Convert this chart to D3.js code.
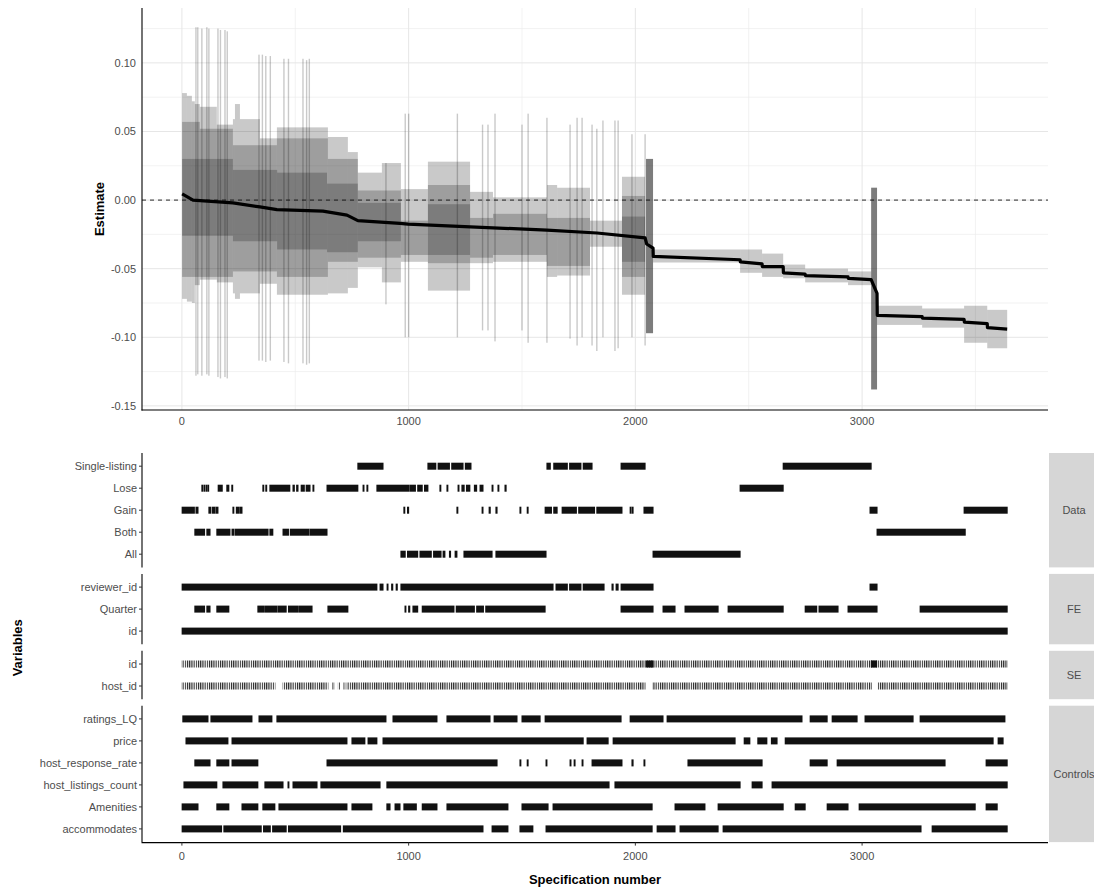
<!DOCTYPE html>
<html>
<head>
<meta charset="utf-8">
<script src="https://cdn.jsdelivr.net/npm/d3@7"></script>
<style>
  body { margin: 0; background: #fff; }
  svg { font-family: "Liberation Sans", Arial, sans-serif; }
</style>
</head>
<body>
<div class="canvas"></div>
<script>
// ---- data ----
const xTicks = [0, 1000, 2000, 3000];
const yTicks = [-0.15, -0.10, -0.05, 0.00, 0.05, 0.10];

// estimate curve: [specification, estimate]
const estimate = [
  [1, 0.0045], [49, 0.0], [225, -0.002], [344, -0.005], [419, -0.007], [622, -0.008],
  [728, -0.011], [776, -0.015], [962, -0.017], [997, -0.0175], [1610, -0.0219],
  [1831, -0.024], [2043, -0.0275], [2050, -0.032], [2078, -0.035],
  [2079, -0.041], [2462, -0.0435], [2463, -0.045], [2559, -0.0465], [2560, -0.0485],
  [2652, -0.0485], [2653, -0.053], [2749, -0.054], [2750, -0.055], [2938, -0.056],
  [2939, -0.057], [3040, -0.058], [3066, -0.068], [3067, -0.084], [3265, -0.085],
  [3266, -0.086], [3450, -0.087], [3451, -0.089], [3552, -0.090], [3553, -0.093], [3640, -0.094]
];

// confidence bands, three overlapping layers: [from, to, low, high]
const ciOuter = [
  [1, 22, -0.072, 0.078], [22, 44, -0.074, 0.076], [44, 57, -0.075, 0.072],
  [57, 79, -0.062, 0.070], [79, 154, -0.058, 0.068], [154, 225, -0.060, 0.055],
  [225, 234, -0.068, 0.059], [234, 256, -0.072, 0.070], [256, 344, -0.068, 0.059],
  [344, 419, -0.061, 0.045], [419, 644, -0.069, 0.053], [644, 732, -0.068, 0.046],
  [732, 776, -0.064, 0.035], [776, 882, -0.049, 0.020], [882, 966, -0.060, 0.027],
  [966, 1085, -0.045, 0.008], [1085, 1271, -0.066, 0.028], [1271, 1372, -0.046, 0.006],
  [1372, 1610, -0.045, 0.002], [1610, 1655, -0.056, 0.011], [1655, 1800, -0.055, 0.009],
  [1800, 1941, -0.034, -0.015], [1941, 2043, -0.069, 0.017], [2047, 2078, -0.097, 0.030],
  [2078, 2462, -0.0455, -0.036], [2462, 2559, -0.053, -0.036], [2559, 2652, -0.056, -0.039],
  [2652, 2749, -0.057, -0.047], [2749, 2938, -0.060, -0.050], [2938, 3040, -0.062, -0.052],
  [3040, 3066, -0.138, 0.009], [3066, 3265, -0.091, -0.077], [3265, 3450, -0.093, -0.079],
  [3450, 3552, -0.104, -0.077], [3552, 3640, -0.108, -0.080]
];
const ciMid = [
  [1, 79, -0.056, 0.057], [79, 225, -0.056, 0.052], [225, 419, -0.052, 0.040],
  [419, 644, -0.056, 0.045], [644, 776, -0.045, 0.030], [776, 966, -0.042, 0.007],
  [966, 1085, -0.040, -0.015], [1085, 1271, -0.046, 0.011], [1271, 1372, -0.042, -0.013],
  [1372, 1610, -0.040, -0.010], [1610, 1800, -0.048, -0.013], [1941, 2043, -0.056, 0.003],
  [2047, 2078, -0.097, 0.030], [3040, 3066, -0.138, 0.009]
];
const ciInner = [
  [1, 225, -0.026, 0.030], [225, 420, -0.030, 0.022], [420, 640, -0.036, 0.020],
  [640, 776, -0.038, 0.012], [776, 966, -0.030, -0.002], [1085, 1271, -0.040, -0.003],
  [1941, 2043, -0.045, -0.012], [2047, 2078, -0.097, 0.030], [3040, 3066, -0.138, 0.009]
];

// single wide intervals: [specification, low, high]
const spikes = [
  [62, -0.128, 0.126], [70, -0.127, 0.126], [88, -0.128, 0.125], [110, -0.127, 0.126],
  [119, -0.128, 0.125], [159, -0.129, 0.125], [170, -0.130, 0.124], [190, -0.129, 0.124],
  [200, -0.130, 0.123], [340, -0.117, 0.106], [355, -0.117, 0.106], [370, -0.118, 0.105],
  [390, -0.117, 0.105], [450, -0.118, 0.103], [470, -0.119, 0.103], [534, -0.119, 0.103],
  [550, -0.120, 0.102], [562, -0.119, 0.103], [900, -0.076, 0.027], [985, -0.100, 0.063],
  [1000, -0.100, 0.063], [1215, -0.100, 0.063], [1326, -0.095, 0.055], [1350, -0.095, 0.055],
  [1381, -0.103, 0.063], [1500, -0.095, 0.055], [1527, -0.104, 0.063], [1610, -0.104, 0.060],
  [1712, -0.101, 0.055], [1743, -0.106, 0.060], [1765, -0.100, 0.060], [1809, -0.106, 0.055],
  [1830, -0.110, 0.052], [1857, -0.100, 0.058], [1910, -0.110, 0.058], [1924, -0.108, 0.058],
  [1985, -0.100, 0.048], [2043, -0.106, 0.048]
];

// specification indicator panels
const groups = ["Data", "FE", "SE", "Controls"];
const dataRows = ["Single-listing", "Lose", "Gain", "Both", "All"];
const feRows = ["reviewer_id", "Quarter", "id"];
const seRows = ["id", "host_id"];
const controlRows = ["ratings_LQ", "price", "host_response_rate", "host_listings_count", "Amenities", "accommodates"];

// runs of specifications where a choice is active: [from, to]
const runsData = {
  "Single-listing": [[776, 887], [1085, 1120], [1130, 1180], [1190, 1240], [1250, 1275],
    [1610, 1625], [1640, 1700], [1710, 1760], [1770, 1809], [1937, 2043], [2652, 3040]],
  "Lose": [[88, 91], [97, 100], [106, 109], [114, 118], [160, 178], [198, 207], [220, 224],
    [357, 361], [370, 374], [388, 476], [490, 496], [506, 512], [526, 540], [548, 565],
    [578, 582], [640, 776], [799, 803], [816, 820], [860, 1000], [1005, 1030], [1040, 1060],
    [1070, 1085], [1138, 1142], [1169, 1173], [1218, 1222], [1235, 1245], [1255, 1270],
    [1290, 1300], [1315, 1328], [1368, 1372], [1394, 1398], [1425, 1430], [2462, 2652]],
  "Gain": [[1, 55], [62, 71], [119, 128], [135, 145], [150, 159], [225, 229], [240, 250],
    [255, 265], [979, 983], [995, 1000], [1213, 1217], [1324, 1328], [1355, 1360],
    [1385, 1390], [1491, 1495], [1523, 1527], [1602, 1630], [1640, 1655], [1677, 1740],
    [1750, 1820], [1830, 1941], [1977, 1981], [1986, 1990], [2038, 2078], [3035, 3066], [3450, 3640]],
  "Both": [[57, 100], [110, 124], [154, 212], [221, 230], [236, 380], [388, 401],
    [446, 470], [478, 560], [565, 640], [3066, 3455]],
  "All": [[966, 985], [995, 1040], [1050, 1100], [1110, 1143], [1152, 1160], [1180, 1185],
    [1205, 1213], [1244, 1368], [1385, 1606], [2078, 2462]]
};
const runsFE = {
  "reviewer_id": [[1, 860], [874, 887], [905, 909], [925, 930], [945, 950], [966, 1637],
    [1650, 1700], [1710, 1760], [1770, 1862], [1897, 1902], [1915, 1924], [1937, 2078], [3035, 3066]],
  "Quarter": [[57, 100], [110, 124], [154, 207], [335, 360], [365, 420], [425, 460],
    [470, 510], [515, 574], [644, 732], [984, 988], [1000, 1005], [1019, 1040], [1060, 1200],
    [1210, 1290], [1300, 1330], [1340, 1602], [1937, 2078], [2122, 2175], [2219, 2365],
    [2409, 2652], [2749, 2800], [2810, 2894], [2938, 3066], [3256, 3640]],
  "id": [[1, 3640]]
};
const runsSE = {
  "id": [[1, 2047], [2047, 2078], [2078, 3040], [3040, 3066], [3066, 3640]],
  "host_id": [[1, 410], [446, 644], [666, 670], [690, 695], [715, 719], [728, 2043],
    [2078, 3040], [3071, 3640]]
};
const runsControls = {
  "ratings_LQ": [[4, 115], [128, 309], [340, 397], [419, 900], [931, 1125], [1169, 1359],
    [1377, 1478], [1500, 1580], [1602, 1937], [1977, 2122], [2140, 2735], [2771, 2846],
    [2868, 2978], [3013, 3225], [3256, 3630]],
  "price": [[18, 203], [221, 728], [750, 807], [821, 860], [887, 1770], [1787, 1880],
    [1902, 2440], [2480, 2505], [2540, 2580], [2600, 2625], [2661, 3578], [3600, 3622]],
  "host_response_rate": [[57, 124], [154, 207], [221, 335], [640, 1390], [1491, 1495],
    [1523, 1527], [1606, 1610], [1712, 1716], [1730, 1734], [1765, 1769], [1809, 1941],
    [1985, 1990], [2038, 2042], [2232, 2559], [2771, 2846], [2890, 3366], [3547, 3640]],
  "host_listings_count": [[9, 154], [181, 335], [366, 446], [468, 472], [490, 596],
    [613, 874], [904, 1884], [1910, 2462], [2515, 2559], [2603, 3640]],
  "Amenities": [[1, 71], [154, 207], [265, 335], [357, 410], [428, 728], [750, 838],
    [904, 918], [940, 962], [979, 1034], [1060, 1125], [1169, 1438], [1500, 1615],
    [1637, 2074], [2175, 2307], [2365, 2652], [2705, 2749], [2846, 2938], [2987, 3499], [3547, 3596]],
  "accommodates": [[1, 175], [185, 350], [360, 390], [400, 460], [470, 700], [712, 1328],
    [1368, 1438], [1491, 1548], [1606, 2074], [2096, 2175], [2197, 2365], [2387, 3260], [3309, 3640]]
};

const facetRows = {Data: dataRows, FE: feRows, SE: seRows, Controls: controlRows};
const facetRuns = {Data: runsData, FE: runsFE, SE: runsSE, Controls: runsControls};

// ---- layout ----
const W = 1094, H = 891;
const plot = {left: 142, right: 1048};
const est = {top: 8, bottom: 410};
const rowStep = 22, facetGap = 6.5, facetTop = 453;
const stripW = 50;
const tickCol = '#4d4d4d';

const svg = d3.select('.canvas')
    .append('svg')
    .attr('width', W)
    .attr('height', H);

const x = d3.scaleLinear().domain([-176, 3820]).range([plot.left, plot.right]);
const y = d3.scaleLinear().domain([-0.153, 0.14]).range([est.bottom, est.top]);

// ---- top panel: estimates ----
const graph = svg.append('g');

// grid (minor then major)
const minorY = d3.range(yTicks.length - 1).map(i => (yTicks[i] + yTicks[i + 1]) / 2).concat([0.125]);
const minorX = xTicks.map(t => t + 500);
graph.append('g').selectAll('line').data(minorY).join('line')
    .attr('x1', plot.left).attr('x2', plot.right)
    .attr('y1', d => y(d)).attr('y2', d => y(d))
    .attr('stroke', '#ececec').attr('stroke-width', 0.7);
graph.append('g').selectAll('line').data(minorX).join('line')
    .attr('x1', d => x(d)).attr('x2', d => x(d))
    .attr('y1', est.top).attr('y2', est.bottom)
    .attr('stroke', '#ececec').attr('stroke-width', 0.7);
graph.append('g').selectAll('line').data(yTicks).join('line')
    .attr('x1', plot.left).attr('x2', plot.right)
    .attr('y1', d => y(d)).attr('y2', d => y(d))
    .attr('stroke', '#e6e6e6').attr('stroke-width', 1);
graph.append('g').selectAll('line').data(xTicks).join('line')
    .attr('x1', d => x(d)).attr('x2', d => x(d))
    .attr('y1', est.top).attr('y2', est.bottom)
    .attr('stroke', '#e6e6e6').attr('stroke-width', 1);

// CI layers, each semi-transparent so overlaps darken
[ciOuter, ciMid, ciInner].forEach(layer => {
    graph.append('g').selectAll('rect').data(layer).join('rect')
        .attr('x', d => x(d[0]))
        .attr('width', d => Math.max(1, x(d[1]) - x(d[0])))
        .attr('y', d => y(d[3]))
        .attr('height', d => y(d[2]) - y(d[3]))
        .attr('fill', '#000').attr('fill-opacity', 0.21);
});
graph.append('g').selectAll('rect').data(spikes).join('rect')
    .attr('x', d => x(d[0]) - 0.7).attr('width', 1.4)
    .attr('y', d => y(d[2]))
    .attr('height', d => y(d[1]) - y(d[2]))
    .attr('fill', '#000').attr('fill-opacity', 0.21);

// zero line
graph.append('line')
    .attr('x1', plot.left).attr('x2', plot.right)
    .attr('y1', y(0)).attr('y2', y(0))
    .attr('stroke', '#111').attr('stroke-width', 0.9)
    .attr('stroke-dasharray', '4,4');

// estimate curve
graph.append('path')
    .datum(estimate)
    .attr('d', d3.line().x(d => x(d[0])).y(d => y(d[1])))
    .attr('fill', 'none').attr('stroke', '#000')
    .attr('stroke-width', 3.2).attr('stroke-linejoin', 'round');

// axes
graph.append('line').attr('x1', plot.left).attr('x2', plot.left)
    .attr('y1', est.top).attr('y2', est.bottom + 0.5)
    .attr('stroke', '#000').attr('stroke-width', 1.1);
graph.append('line').attr('x1', plot.left - 0.5).attr('x2', plot.right)
    .attr('y1', est.bottom).attr('y2', est.bottom)
    .attr('stroke', '#000').attr('stroke-width', 1.1);
graph.append('g').selectAll('text').data(yTicks).join('text')
    .attr('x', plot.left - 6).attr('y', d => y(d))
    .attr('dy', '0.35em').attr('text-anchor', 'end')
    .attr('font-size', 11).attr('fill', tickCol)
    .text(d => d.toFixed(2));
graph.append('g').selectAll('text').data(xTicks).join('text')
    .attr('x', d => x(d)).attr('y', est.bottom + 15)
    .attr('text-anchor', 'middle')
    .attr('font-size', 11).attr('fill', tickCol)
    .text(d => d);
graph.append('text')
    .attr('transform', `translate(104, ${(est.top + est.bottom) / 2}) rotate(-90)`)
    .attr('text-anchor', 'middle')
    .attr('font-size', 13).attr('font-weight', 'bold')
    .text('Estimate');

// ---- bottom panel: specification choices ----
const specs = svg.append('g');
const defs = svg.append('defs');
defs.append('pattern')
    .attr('id', 'hatch').attr('patternUnits', 'userSpaceOnUse')
    .attr('width', 2.2).attr('height', 10)
    .append('rect').attr('width', 1.1).attr('height', 10).attr('fill', '#222');
const hatched = new Set(['SE']);

let yCursor = facetTop;
groups.forEach(g => {
    const rows = facetRows[g];
    const h = (rows.length - 1 + 1.2) * rowStep;
    const ys = d3.scalePoint().domain(rows).range([yCursor, yCursor + h]).padding(0.6);
    const panel = specs.append('g');

    rows.forEach(r => {
        panel.append('g').selectAll('rect').data(facetRuns[g][r]).join('rect')
            .attr('x', d => x(d[0]) - 0.5)
            .attr('width', d => Math.max(1.2, x(d[1]) - x(d[0]) + 1))
            .attr('y', ys(r) - 3.5)
            .attr('height', 7)
            .attr('fill', hatched.has(g) ? 'url(#hatch)' : '#111');
    });
    // darker overlap blocks in SE id row
    if (g === 'SE') {
        panel.append('g').selectAll('rect')
            .data(facetRuns[g]['id'].filter(d => d[1] - d[0] < 40))
            .join('rect')
            .attr('x', d => x(d[0])).attr('width', d => x(d[1]) - x(d[0]))
            .attr('y', ys('id') - 3.5).attr('height', 7).attr('fill', '#111');
    }

    // y axis for the facet
    panel.append('line').attr('x1', plot.left).attr('x2', plot.left)
        .attr('y1', yCursor).attr('y2', yCursor + h)
        .attr('stroke', '#000').attr('stroke-width', 1.1);
    panel.append('g').selectAll('line').data(rows).join('line')
        .attr('x1', plot.left - 3).attr('x2', plot.left)
        .attr('y1', d => ys(d)).attr('y2', d => ys(d))
        .attr('stroke', '#333').attr('stroke-width', 1);
    panel.append('g').selectAll('text').data(rows).join('text')
        .attr('x', plot.left - 5).attr('y', d => ys(d))
        .attr('dy', '0.35em').attr('text-anchor', 'end')
        .attr('font-size', 11).attr('fill', tickCol)
        .text(d => d);

    // strip
    panel.append('rect')
        .attr('x', plot.right + 1).attr('y', yCursor)
        .attr('width', stripW).attr('height', h)
        .attr('fill', '#d6d6d6');
    panel.append('text')
        .attr('x', plot.right + 1 + stripW / 2).attr('y', yCursor + h / 2)
        .attr('dy', '0.35em').attr('text-anchor', 'middle')
        .attr('font-size', 11).attr('fill', '#4d4d4d')
        .text(g);

    yCursor += h + facetGap;
});

const bottomY = yCursor - facetGap + 0.5;
specs.append('line').attr('x1', plot.left - 0.5).attr('x2', plot.right)
    .attr('y1', bottomY).attr('y2', bottomY)
    .attr('stroke', '#000').attr('stroke-width', 1.1);
specs.append('g').selectAll('line').data(xTicks).join('line')
    .attr('x1', d => x(d)).attr('x2', d => x(d))
    .attr('y1', bottomY).attr('y2', bottomY + 3)
    .attr('stroke', '#333');
specs.append('g').selectAll('text').data(xTicks).join('text')
    .attr('x', d => x(d)).attr('y', bottomY + 17)
    .attr('text-anchor', 'middle')
    .attr('font-size', 11).attr('fill', tickCol)
    .text(d => d);

svg.append('text')
    .attr('x', (plot.left + plot.right) / 2).attr('y', 884)
    .attr('text-anchor', 'middle')
    .attr('font-size', 13).attr('font-weight', 'bold')
    .text('Specification number');
svg.append('text')
    .attr('transform', `translate(22, ${(facetTop + bottomY) / 2}) rotate(-90)`)
    .attr('text-anchor', 'middle')
    .attr('font-size', 13).attr('font-weight', 'bold')
    .text('Variables');
</script>
</body>
</html>
